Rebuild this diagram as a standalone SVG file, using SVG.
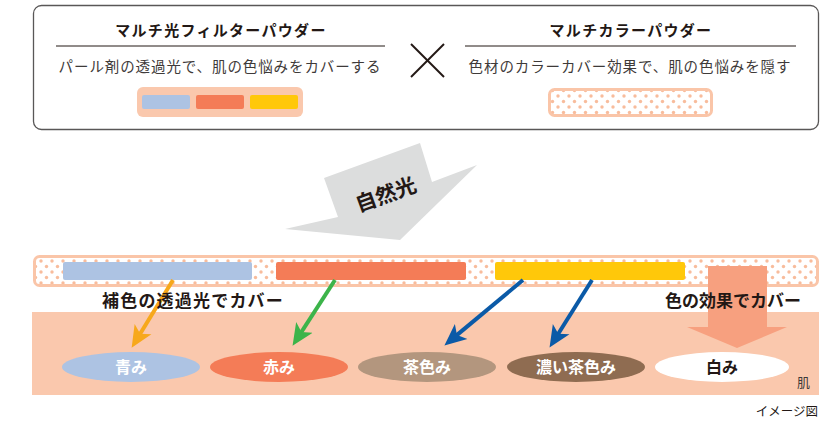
<svg xmlns="http://www.w3.org/2000/svg" width="834" height="422" viewBox="0 0 834 422">
<style>
.t{font-family:"Noto Sans CJK JP","Noto Sans",sans-serif;}
.title{font-size:15px;font-weight:bold;fill:#231815;letter-spacing:1.3px;text-anchor:middle}
.sub{font-size:14.5px;fill:#3e3a39;letter-spacing:0.9px;text-anchor:middle}
.lab{font-size:17px;font-weight:bold;fill:#231815}
.el{font-size:16px;font-weight:bold;fill:#fff;text-anchor:middle}
.peach{fill:#fac8ad}
</style>
<defs>
<pattern id="dots" width="11" height="11" patternUnits="userSpaceOnUse">
<rect width="11" height="11" fill="#fff"/>
<circle cx="2.5" cy="2.5" r="1.7" fill="#f8bc9c"/>
<circle cx="8" cy="8" r="1.7" fill="#f8bc9c"/>
</pattern>
<marker id="ahO" markerUnits="userSpaceOnUse" markerWidth="24" markerHeight="24" viewBox="0 -10 22 20" refX="12" refY="0" orient="auto"><path d="M0,-9 L20,0 L0,9 L5,0 z" fill="#f7a81b"/></marker>
<marker id="ahG" markerUnits="userSpaceOnUse" markerWidth="24" markerHeight="24" viewBox="0 -10 22 20" refX="12" refY="0" orient="auto"><path d="M0,-9 L20,0 L0,9 L5,0 z" fill="#3cb44a"/></marker>
<marker id="ahB" markerUnits="userSpaceOnUse" markerWidth="24" markerHeight="24" viewBox="0 -10 22 20" refX="12" refY="0" orient="auto"><path d="M0,-9 L20,0 L0,9 L5,0 z" fill="#0b5aa7"/></marker>
</defs>

<g id="top-box">
<rect x="33.5" y="5.5" width="785" height="124" rx="8" fill="#fff" stroke="#595757" stroke-width="1.3"/>
</g>

<g id="multi-light-filter-powder">
<text class="t title" x="221" y="36">マルチ光フィルターパウダー</text>
<line x1="56" y1="46" x2="385" y2="46" stroke="#231815" stroke-width="1"/>
<text class="t sub" x="220" y="72">パール剤の透過光で、肌の色悩みをカバーする</text>
<rect x="137" y="87" width="166" height="30" rx="6" class="peach"/>
<rect x="142" y="95" width="48" height="14" rx="2" fill="#adc3e3"/>
<rect x="196" y="95" width="48" height="14" rx="2" fill="#f47c57"/>
<rect x="250" y="95" width="48" height="14" rx="2" fill="#ffc80a"/>
</g>

<g id="cross">
<line x1="411" y1="44" x2="444" y2="77" stroke="#231815" stroke-width="2"/>
<line x1="444" y1="44" x2="411" y2="77" stroke="#231815" stroke-width="2"/>
</g>

<g id="multi-color-powder">
<text class="t title" x="631" y="36">マルチカラーパウダー</text>
<line x1="465" y1="46" x2="796" y2="46" stroke="#231815" stroke-width="1"/>
<text class="t sub" x="630" y="72">色材のカラーカバー効果で、肌の色悩みを隠す</text>
<rect x="549.5" y="89.5" width="162" height="26" rx="5" fill="url(#dots)" stroke="#fac5a8" stroke-width="3"/>
</g>

<g id="natural-light">
<polygon points="324,178 420,143 432,182 477,165 400,240 285,229 338,217" fill="#dcdddd"/>
<text class="t" x="386" y="202" font-size="21" font-weight="bold" fill="#231815" text-anchor="middle" transform="rotate(-20 386 195)">自然光</text>
</g>

<g id="skin">
<rect x="32" y="312" width="787" height="83" class="peach"/>
<text class="t" x="797" y="387" font-size="13" fill="#3e3a39">肌</text>
</g>

<g id="powder-layer">
<rect x="34.5" y="256.5" width="783" height="29" rx="5" fill="url(#dots)" stroke="#fac5a8" stroke-width="3"/>
<rect x="63" y="262" width="189" height="18" rx="2" fill="#adc3e3"/>
<rect x="276" y="262" width="190" height="18" rx="2" fill="#f47c57"/>
<rect x="495" y="262" width="190" height="18" rx="2" fill="#ffc80a"/>
</g>

<g id="color-effect-arrow">
<polygon points="708,266 767,266 767,327 787,327 737,348 687,327 708,327" fill="#f7a07f"/>
</g>

<g id="connectors">
<line x1="173" y1="280" x2="136.2" y2="340.2" stroke="#f7a81b" stroke-width="4" marker-end="url(#ahO)"/>
<line x1="335" y1="280" x2="297.3" y2="338.3" stroke="#3cb44a" stroke-width="4" marker-end="url(#ahG)"/>
<line x1="523" y1="280" x2="451.1" y2="339.9" stroke="#0b5aa7" stroke-width="4" marker-end="url(#ahB)"/>
<line x1="592" y1="280" x2="554.2" y2="340.2" stroke="#0b5aa7" stroke-width="4" marker-end="url(#ahB)"/>
</g>

<g id="labels">
<text class="t lab" x="102" y="307" letter-spacing="1.2">補色の透過光でカバー</text>
<text class="t lab" x="665" y="307">色の効果でカバー</text>
</g>

<g id="blue-tone">
<ellipse cx="131" cy="367" rx="69" ry="15" fill="#adc3e3"/>
<text class="t el" x="131" y="373">青み</text>
</g>
<g id="red-tone">
<ellipse cx="279" cy="367" rx="69" ry="15" fill="#f47c57"/>
<text class="t el" x="279" y="373">赤み</text>
</g>
<g id="brown-tone">
<ellipse cx="427" cy="367" rx="69" ry="15" fill="#b3967e"/>
<text class="t el" x="427" y="373">茶色み</text>
</g>
<g id="dark-brown-tone">
<ellipse cx="576" cy="367" rx="69" ry="15" fill="#8f6c51"/>
<text class="t el" x="576" y="373">濃い茶色み</text>
</g>
<g id="white-tone">
<ellipse cx="722" cy="367" rx="67" ry="15" fill="#fff"/>
<text class="t el" x="722" y="373" style="fill:#231815">白み</text>
</g>

<text class="t" x="818" y="416" font-size="12.5" fill="#231815" text-anchor="end">イメージ図</text>
</svg>
